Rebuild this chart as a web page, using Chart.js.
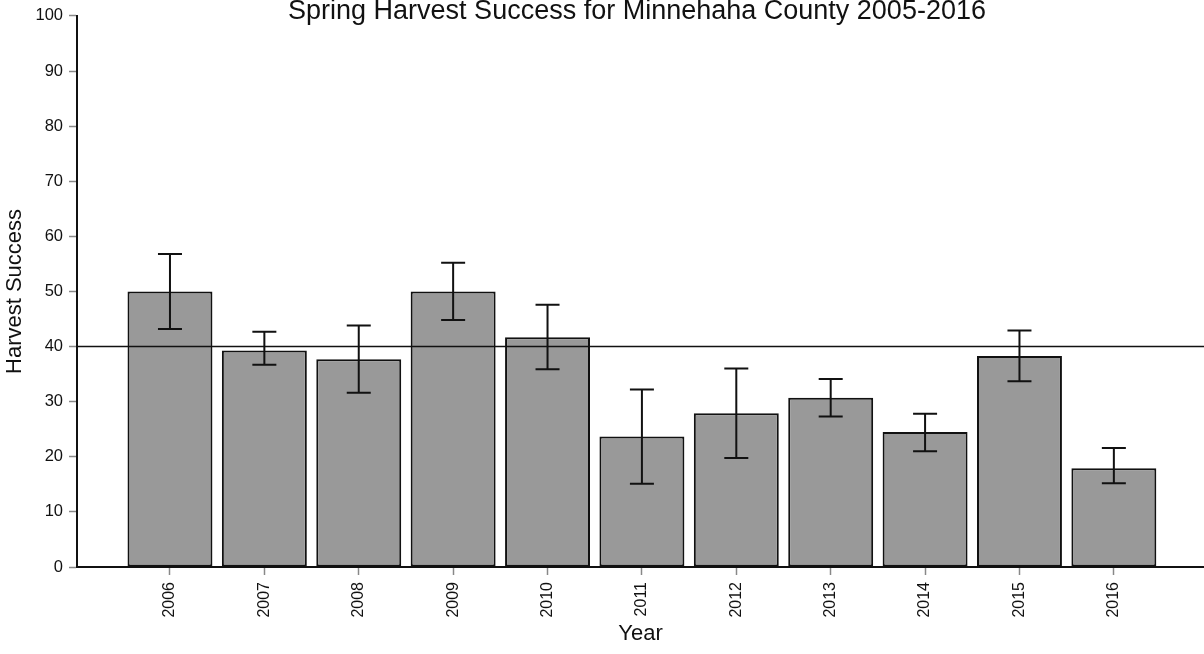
<!DOCTYPE html>
<html>
<head>
<meta charset="utf-8">
<script src="https://cdn.jsdelivr.net/npm/chart.js@4.4.1/dist/chart.umd.min.js"></script>
<style>
  html, body { margin: 0; padding: 0; background: #fff; }
  #wrap { width: 1204px; height: 654px; position: relative; }
</style>
</head>
<body>
<div id="wrap"><canvas id="harvest"></canvas></div>
<script>
// Spring harvest success by year, with error bar limits
var years = [2006, 2007, 2008, 2009, 2010, 2011, 2012, 2013, 2014, 2015, 2016];
var success = [50.0, 39.3, 37.7, 50.0, 41.7, 23.7, 27.9, 30.7, 24.5, 38.3, 17.9];
var upper = [56.8, 42.7, 43.8, 55.2, 47.6, 32.2, 36.0, 34.1, 27.8, 42.9, 21.6];
var lower = [43.2, 36.7, 31.6, 44.8, 35.9, 15.1, 19.8, 27.3, 21.0, 33.7, 15.2];
var goal = 40;
var yTicks = [0, 10, 20, 30, 40, 50, 60, 70, 80, 90, 100];
var titleText = "Spring Harvest Success for Minnehaha County 2005-2016";

Chart.defaults.font.family = '"Liberation Sans", Arial, sans-serif';
Chart.defaults.color = '#111';

// error bars + the 40% reference line, drawn over the bars
var errorBars = {
    id: 'errorBars',
    afterDatasetsDraw: function(chart) {
        var ctx = chart.ctx;
        var yScale = chart.scales.y;
        var area = chart.chartArea;
        var bars = chart.getDatasetMeta(0).data;
        ctx.save();
        ctx.strokeStyle = '#111';
        ctx.lineWidth = 2;
        for (var i = 0; i < bars.length; i++) {
            var x = bars[i].x;
            var top = yScale.getPixelForValue(upper[i]);
            var bot = yScale.getPixelForValue(lower[i]);
            ctx.beginPath();
            ctx.moveTo(x, top);
            ctx.lineTo(x, bot);
            ctx.moveTo(x - 12, top);
            ctx.lineTo(x + 12, top);
            ctx.moveTo(x - 12, bot);
            ctx.lineTo(x + 12, bot);
            ctx.stroke();
        }
        var gy = yScale.getPixelForValue(goal);
        ctx.lineWidth = 1.5;
        ctx.beginPath();
        ctx.moveTo(area.left, gy);
        ctx.lineTo(area.right, gy);
        ctx.stroke();
        ctx.restore();
    }
};

// title sits right at the top edge of the figure
var topTitle = {
    id: 'topTitle',
    afterDraw: function(chart) {
        var ctx = chart.ctx;
        ctx.save();
        ctx.font = '27px "Liberation Sans", Arial, sans-serif';
        ctx.fillStyle = '#111';
        ctx.textAlign = 'center';
        ctx.textBaseline = 'alphabetic';
        ctx.fillText(titleText, 637, 19);
        ctx.restore();
    }
};

var points = years.map(function(y, i) { return {x: y, y: success[i]}; });

new Chart(document.getElementById('harvest'), {
    type: 'bar',
    data: {
        datasets: [{
            data: points,
            backgroundColor: '#999999',
            borderColor: '#111',
            borderWidth: 2,
            borderSkipped: false,
            categoryPercentage: 1.0,
            barPercentage: 0.9
        }]
    },
    options: {
        responsive: true,
        maintainAspectRatio: false,
        animation: false,
        layout: { padding: { top: 15, left: 0, right: 0, bottom: 0 } },
        plugins: {
            legend: { display: false },
            tooltip: { enabled: false }
        },
        scales: {
            x: {
                type: 'linear',
                offset: false,
                min: 2005.015,
                max: 2016.955,
                afterBuildTicks: function(scale) {
                    scale.ticks = years.map(function(v) { return {value: v}; });
                },
                afterFit: function(scale) { scale.height = 87; },
                ticks: {
                    autoSkip: false,
                    minRotation: 90,
                    maxRotation: 90,
                    padding: 7,
                    font: { size: 16 },
                    callback: function(v) { return String(v); }
                },
                grid: {
                    offset: false,
                    drawOnChartArea: false,
                    drawTicks: true,
                    tickLength: 8,
                    tickWidth: 1.5,
                    color: '#888'
                },
                border: { display: true, color: '#111', width: 2 },
                title: {
                    display: true,
                    text: 'Year',
                    font: { size: 22 },
                    color: '#111',
                    padding: { top: 0, bottom: 7 }
                }
            },
            y: {
                min: 0,
                max: 100,
                afterBuildTicks: function(scale) {
                    scale.ticks = yTicks.map(function(v) { return {value: v}; });
                },
                afterFit: function(scale) { scale.width = 77; },
                ticks: {
                    padding: 6,
                    font: { size: 16.5 }
                },
                grid: {
                    drawOnChartArea: false,
                    drawTicks: true,
                    tickLength: 8,
                    tickWidth: 1.5,
                    color: '#888'
                },
                border: { display: true, color: '#111', width: 2 },
                title: {
                    display: true,
                    text: 'Harvest Success',
                    font: { size: 22 },
                    color: '#111',
                    padding: { top: 2, bottom: 0 }
                }
            }
        }
    },
    plugins: [errorBars, topTitle]
});
</script>
</body>
</html>
